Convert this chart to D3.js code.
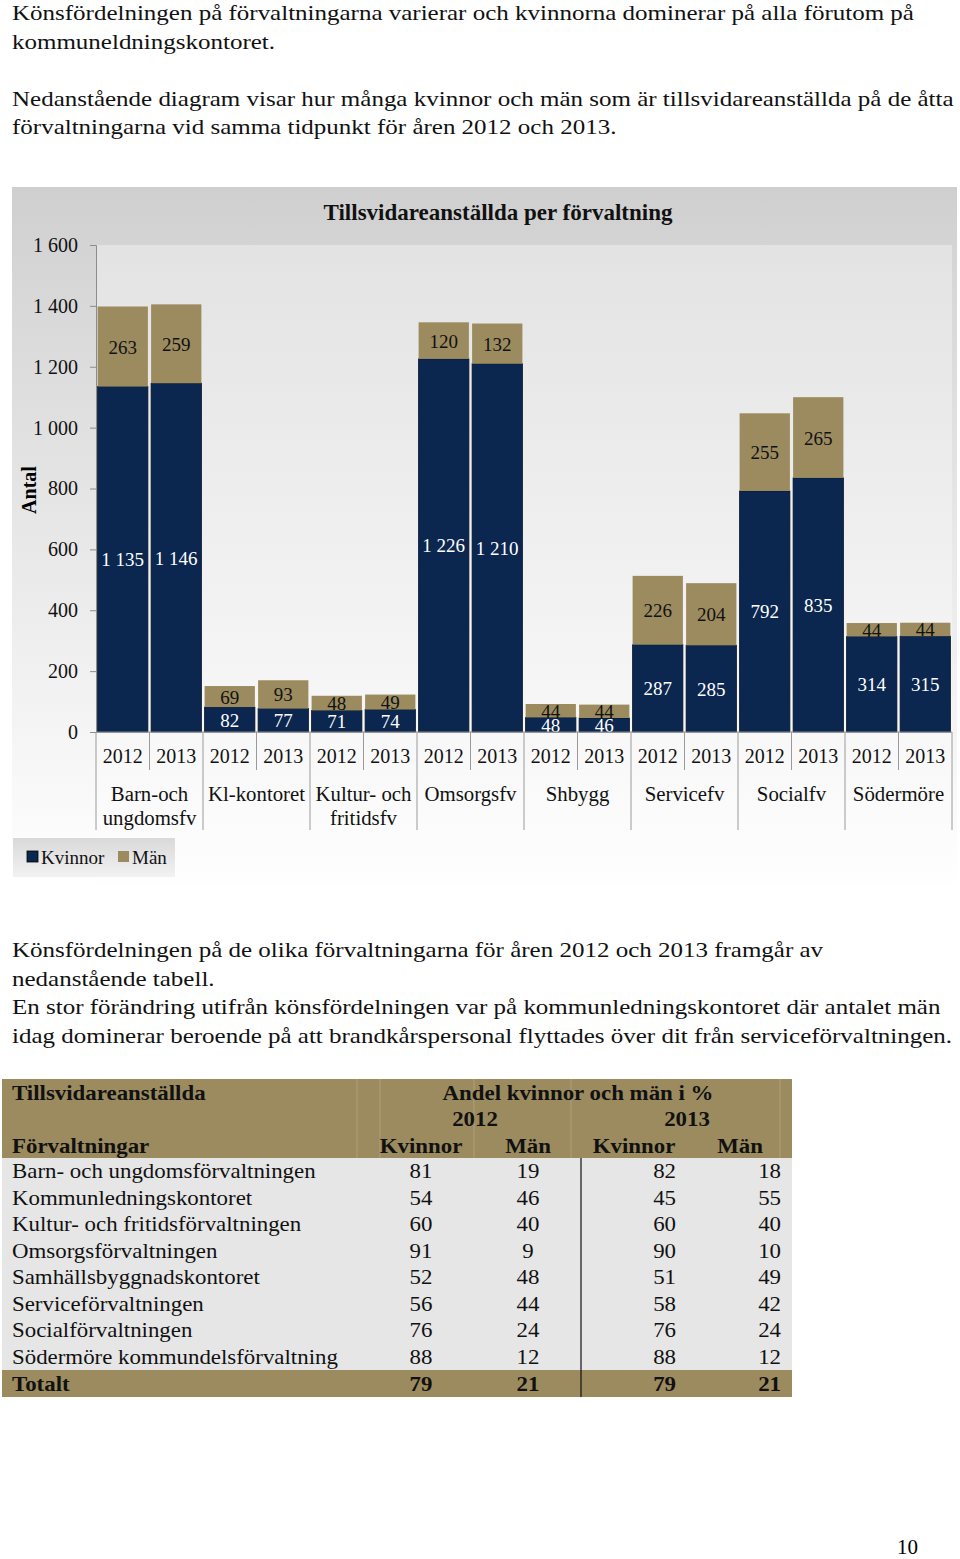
<!DOCTYPE html>
<html>
<head>
<meta charset="utf-8">
<script src="https://cdn.jsdelivr.net/npm/d3@7"></script>
<style>
  body { margin: 0; background: #fff; }
  svg text { font-family: "Liberation Serif", "Times New Roman", serif; }
</style>
</head>
<body>
<div id="page"></div>
<script>
// ---- chart data ----
var categories = ["Barn-och ungdomsfv", "Kl-kontoret", "Kultur- och fritidsfv", "Omsorgsfv",
                  "Shbygg", "Servicefv", "Socialfv", "Södermöre"];
var categoryLines = [["Barn-och", "ungdomsfv"], ["Kl-kontoret"], ["Kultur- och", "fritidsfv"], ["Omsorgsfv"],
                     ["Shbygg"], ["Servicefv"], ["Socialfv"], ["Södermöre"]];
var years = ["2012", "2013"];
var kvinnor2012 = [1135, 82, 71, 1226, 48, 287, 792, 314];
var kvinnor2013 = [1146, 77, 74, 1210, 46, 285, 835, 315];
var man2012 = [263, 69, 48, 120, 44, 226, 255, 44];
var man2013 = [259, 93, 49, 132, 44, 204, 265, 44];
var yTicks = [0, 200, 400, 600, 800, 1000, 1200, 1400, 1600];

// ---- table data ----
var tableNames = ["Barn- och ungdomsförvaltningen", "Kommunledningskontoret", "Kultur- och fritidsförvaltningen",
                  "Omsorgsförvaltningen", "Samhällsbyggnadskontoret", "Serviceförvaltningen",
                  "Socialförvaltningen", "Södermöre kommundelsförvaltning"];
var pctK2012 = [81, 54, 60, 91, 52, 56, 76, 88];
var pctM2012 = [19, 46, 40, 9, 48, 44, 24, 12];
var pctK2013 = [82, 45, 60, 90, 51, 58, 76, 88];
var pctM2013 = [18, 55, 40, 10, 49, 42, 24, 12];
var totals = [79, 21, 79, 21];

// ---- text ----
var introLines = ["Könsfördelningen på förvaltningarna varierar och kvinnorna dominerar på alla förutom på",
                  "kommuneldningskontoret.", "",
                  "Nedanstående diagram visar hur många kvinnor och män som är tillsvidareanställda på de åtta",
                  "förvaltningarna vid samma tidpunkt för åren 2012 och 2013."];
var afterLines = ["Könsfördelningen på de olika förvaltningarna för åren 2012 och 2013 framgår av",
                  "nedanstående tabell.",
                  "En stor förändring utifrån könsfördelningen var på kommunledningskontoret där antalet män",
                  "idag dominerar beroende på att brandkårspersonal flyttades över dit från serviceförvaltningen."];

var navy = "#0b2750", tan = "#9b8b5f";
var fmt = function(v) { return d3.format(",")(v).replace(/,/g, " "); };

var svg = d3.select("#page").append("svg")
  .attr("width", 960)
  .attr("height", 1559);

// text helper: the scanned page has slightly wide glyphs, so stretch horizontally around the anchor
function sText(x, y, s, size, sx, anchor, bold) {
  return svg.append("text")
    .attr("transform", `translate(${x},${y}) scale(${sx},1)`)
    .attr("font-size", size)
    .attr("text-anchor", anchor || "start")
    .attr("font-weight", bold ? "bold" : "normal")
    .attr("fill", "#111")
    .text(s);
}

// paragraphs
introLines.forEach((d, i) => sText(12, 20 + i * 28.6, d, 21, 1.19));
afterLines.forEach((d, i) => sText(12, 957 + i * 28.7, d, 21, 1.19));

// ======================= chart =======================
var defs = svg.append("defs");
var g1 = defs.append("linearGradient").attr("id", "outerGrad").attr("x1", 0).attr("y1", 0).attr("x2", 0).attr("y2", 1);
g1.append("stop").attr("offset", "0%").attr("stop-color", "#cfcfcf");
g1.append("stop").attr("offset", "12%").attr("stop-color", "#d6d6d6");
g1.append("stop").attr("offset", "100%").attr("stop-color", "#ffffff");
var g2 = defs.append("linearGradient").attr("id", "plotGrad").attr("x1", 0).attr("y1", 0).attr("x2", 0).attr("y2", 1);
g2.append("stop").attr("offset", "0%").attr("stop-color", "#e3e3e3");
g2.append("stop").attr("offset", "100%").attr("stop-color", "#fefefe");
var g3 = defs.append("linearGradient").attr("id", "legGrad").attr("x1", 0).attr("y1", 0).attr("x2", 0).attr("y2", 1);
g3.append("stop").attr("offset", "0%").attr("stop-color", "#d9d9d9");
g3.append("stop").attr("offset", "100%").attr("stop-color", "#f2f2f2");

svg.append("rect").attr("x", 12).attr("y", 187).attr("width", 945).attr("height", 700)
  .attr("fill", "url(#outerGrad)");
svg.append("rect").attr("x", 96).attr("y", 245).attr("width", 856).attr("height", 640)
  .attr("fill", "url(#plotGrad)");

svg.append("text").attr("x", 498).attr("y", 220).attr("text-anchor", "middle")
  .attr("font-size", 23).attr("font-weight", "bold").attr("fill", "#111")
  .text("Tillsvidareanställda per förvaltning");

var x0 = d3.scaleBand().domain(categories).range([96, 952]);
var x1 = d3.scaleBand().domain(years).range([0, x0.bandwidth()]).paddingInner(0.06).paddingOuter(0.03);
var y = d3.scaleLinear().domain([0, 1600]).range([732, 245]);

// y axis
var yAxis = svg.append("g").attr("transform", "translate(96,0)")
  .call(d3.axisLeft(y).tickValues(yTicks).tickFormat(fmt).tickSize(6).tickPadding(12));
yAxis.select(".domain").attr("stroke", "#8c8c8c");
yAxis.selectAll(".tick line").attr("stroke", "#8c8c8c");
yAxis.selectAll(".tick text").attr("font-size", 20).attr("fill", "#111")
  .attr("font-family", "Liberation Serif, serif");

svg.append("text").attr("transform", "translate(36,490) rotate(-90)")
  .attr("text-anchor", "middle").attr("font-size", 20).attr("font-weight", "bold").text("Antal");

// bar data
var barData = [];
categories.forEach(function(c, i) {
  barData.push({ cat: c, year: "2012", k: kvinnor2012[i], m: man2012[i] });
  barData.push({ cat: c, year: "2013", k: kvinnor2013[i], m: man2013[i] });
});

var bars = svg.selectAll(".bar").data(barData).enter().append("g")
  .attr("transform", d => `translate(${x0(d.cat) + x1(d.year)},0)`);

bars.append("rect")
  .attr("y", d => y(d.k)).attr("height", d => y(0) - y(d.k))
  .attr("width", x1.bandwidth()).attr("fill", navy)
  .attr("stroke", "#06142a").attr("stroke-width", 0.8);
bars.append("rect")
  .attr("y", d => y(d.k + d.m)).attr("height", d => y(d.k) - y(d.k + d.m))
  .attr("width", x1.bandwidth()).attr("fill", tan);

bars.append("text")
  .attr("x", x1.bandwidth() / 2).attr("y", d => y(d.k / 2) + 7)
  .attr("text-anchor", "middle").attr("font-size", 19).attr("fill", "#fff")
  .text(d => fmt(d.k));
bars.append("text")
  .attr("x", x1.bandwidth() / 2).attr("y", d => y(d.k + d.m / 2) + 7)
  .attr("text-anchor", "middle").attr("font-size", 19).attr("fill", "#111")
  .text(d => fmt(d.m));

// x axis
svg.append("line").attr("x1", 96).attr("x2", 952).attr("y1", 732).attr("y2", 732)
  .attr("stroke", "#8c8c8c");
var groups = svg.selectAll(".grp").data(categories).enter().append("g")
  .attr("transform", d => `translate(${x0(d)},0)`);
groups.append("line").attr("x1", 0).attr("x2", 0).attr("y1", 732).attr("y2", 830)
  .attr("stroke", "#9a9a9a");
groups.append("line").attr("x1", x0.bandwidth() / 2).attr("x2", x0.bandwidth() / 2)
  .attr("y1", 732).attr("y2", 770).attr("stroke", "#9a9a9a");
groups.selectAll(".yr").data(years).enter().append("text")
  .attr("x", d => x1(d) + x1.bandwidth() / 2).attr("y", 763)
  .attr("text-anchor", "middle").attr("font-size", 20).attr("fill", "#111").text(d => d);
groups.each(function(d, i) {
  d3.select(this).selectAll(".cl").data(categoryLines[i]).enter().append("text")
    .attr("x", x0.bandwidth() / 2).attr("y", (t, j) => 801 + j * 24)
    .attr("text-anchor", "middle").attr("font-size", 20.8).attr("fill", "#111").text(t => t);
});
svg.append("line").attr("x1", 952).attr("x2", 952).attr("y1", 732).attr("y2", 830)
  .attr("stroke", "#9a9a9a");

// legend
svg.append("rect").attr("x", 13).attr("y", 838).attr("width", 162).attr("height", 39)
  .attr("fill", "url(#legGrad)");
var legend = [{ name: "Kvinnor", color: navy, x: 27 }, { name: "Män", color: tan, x: 118 }];
legend.forEach(function(l) {
  svg.append("rect").attr("x", l.x).attr("y", 851).attr("width", 11).attr("height", 11)
    .attr("fill", l.color).attr("stroke", l.name === "Kvinnor" ? "#000" : "none").attr("stroke-width", 0.8);
  svg.append("text").attr("x", l.x + 14).attr("y", 864).attr("font-size", 19).attr("fill", "#111").text(l.name);
});

// ======================= table =======================
var tX = 2, tW = 790;
svg.append("rect").attr("x", tX).attr("y", 1079).attr("width", tW).attr("height", 79).attr("fill", tan);
svg.append("rect").attr("x", tX).attr("y", 1158).attr("width", tW).attr("height", 212).attr("fill", "#e6e6e6");
svg.append("rect").attr("x", tX).attr("y", 1370).attr("width", tW).attr("height", 27).attr("fill", tan);
[357, 380, 474, 571, 780].forEach(function(lx) {
  svg.append("line").attr("x1", lx).attr("x2", lx).attr("y1", 1079).attr("y2", 1158)
    .attr("stroke", "#ada07a").attr("stroke-width", 1);
});
svg.append("line").attr("x1", 581).attr("x2", 581).attr("y1", 1158).attr("y2", 1397)
  .attr("stroke", "#111").attr("stroke-width", 1.2);

function tText(x, yy, s, anchor, bold) {
  sText(x, yy, s, 22, 1.04, anchor, bold);
}
tText(12, 1100, "Tillsvidareanställda", "start", true);
tText(578, 1100, "Andel kvinnor och män i %", "middle", true);
tText(475, 1126, "2012", "middle", true);
tText(687, 1126, "2013", "middle", true);
tText(12, 1153, "Förvaltningar", "start", true);
tText(421, 1153, "Kvinnor", "middle", true);
tText(528, 1153, "Män", "middle", true);
tText(634, 1153, "Kvinnor", "middle", true);
tText(740, 1153, "Män", "middle", true);

var rowY = d3.scaleBand().domain(d3.range(tableNames.length)).range([1158, 1370]);
tableNames.forEach(function(n, i) {
  var yy = rowY(i) + rowY.bandwidth() / 2 + 7;
  tText(12, yy, n);
  tText(421, yy, pctK2012[i], "middle");
  tText(528, yy, pctM2012[i], "middle");
  tText(676, yy, pctK2013[i], "end");
  tText(781, yy, pctM2013[i], "end");
});
tText(12, 1391, "Totalt", "start", true);
tText(421, 1391, totals[0], "middle", true);
tText(528, 1391, totals[1], "middle", true);
tText(676, 1391, totals[2], "end", true);
tText(781, 1391, totals[3], "end", true);

// page number
svg.append("text").attr("x", 918).attr("y", 1554).attr("text-anchor", "end").attr("font-size", 21).text("10");
</script>
</body>
</html>
